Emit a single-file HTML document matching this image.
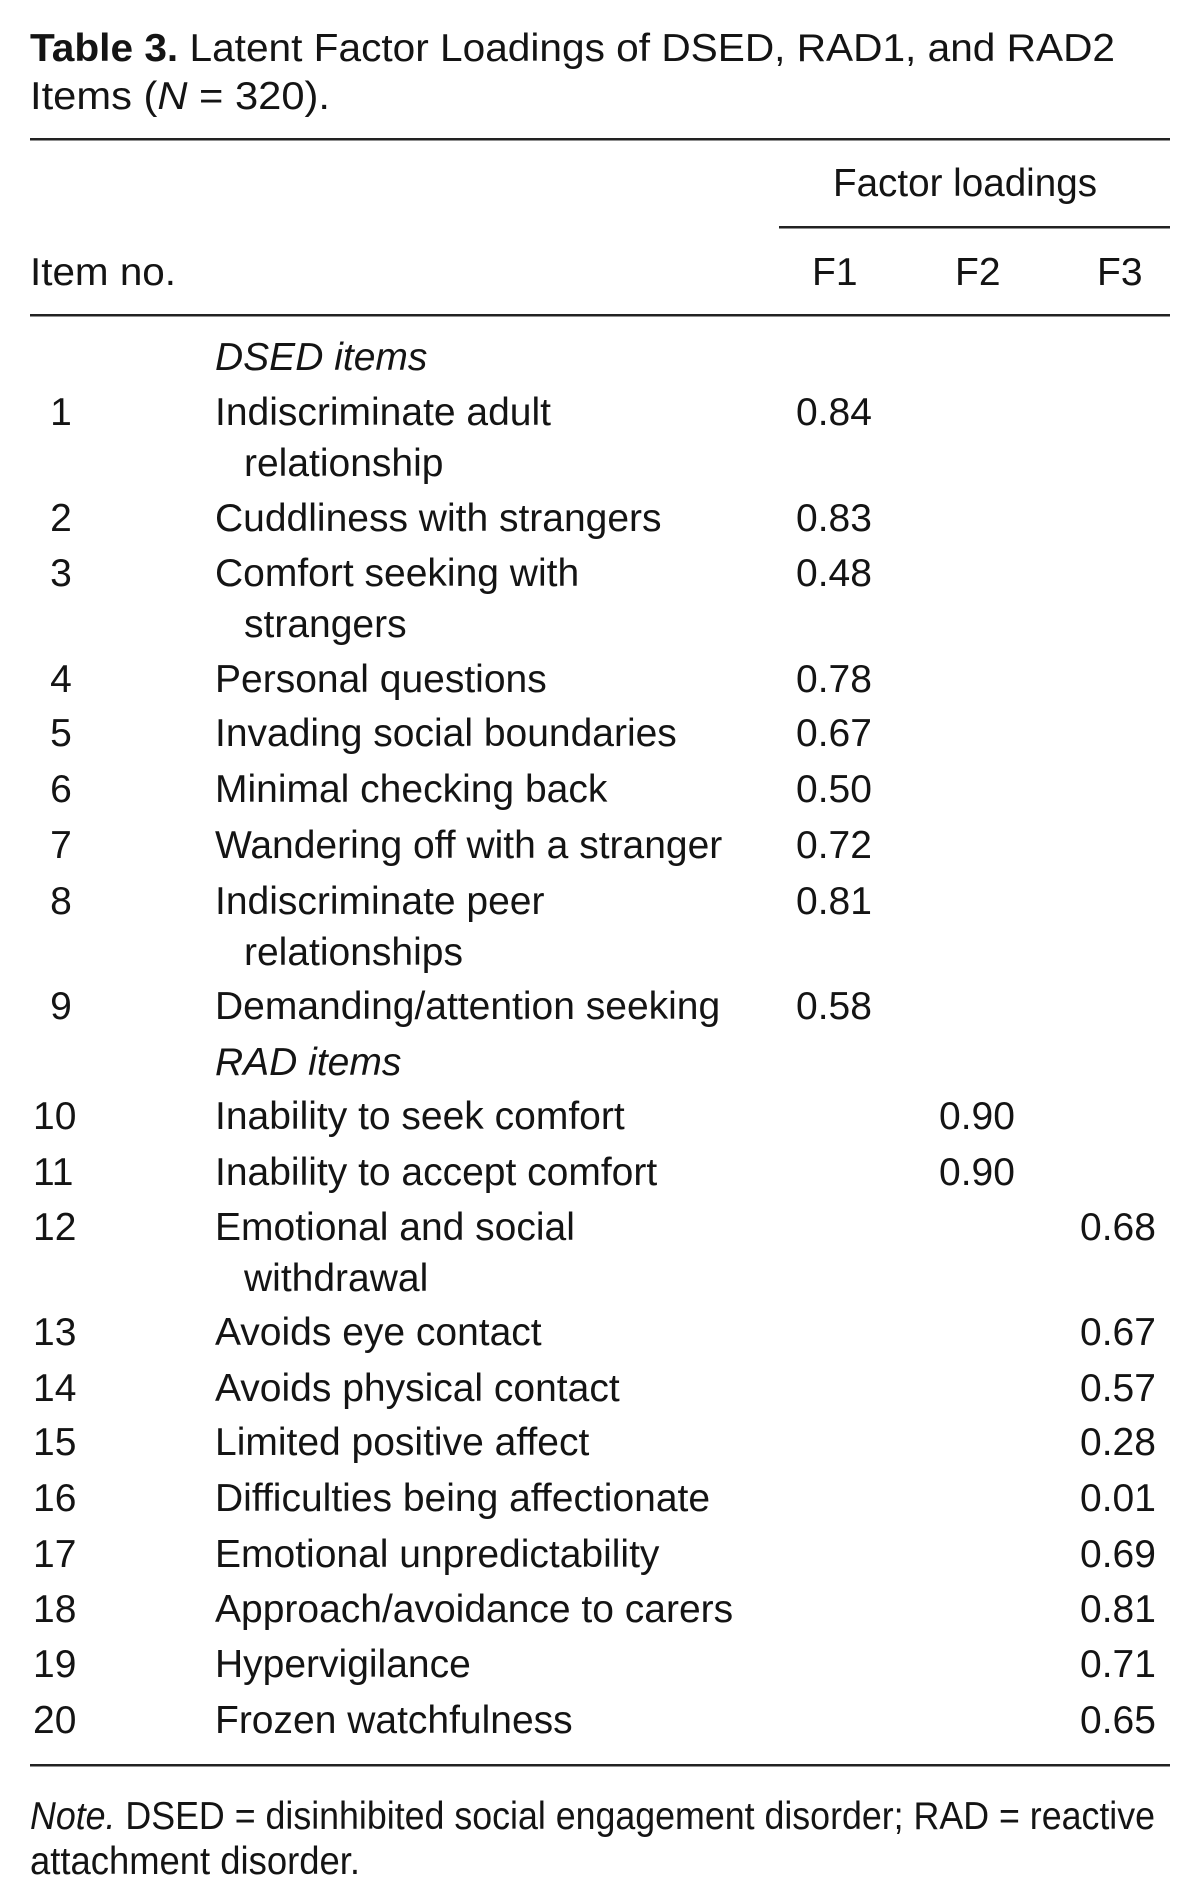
<!DOCTYPE html>
<html><head><meta charset="utf-8"><style>
html,body{margin:0;padding:0;background:#fff;}
svg{display:block;}
text{font-family:"Liberation Sans",sans-serif;font-size:39px;fill:#141414;}
</style></head><body>
<svg width="1200" height="1903" viewBox="0 0 1200 1903" xmlns="http://www.w3.org/2000/svg">
<text x="30" y="61" textLength="1085" lengthAdjust="spacingAndGlyphs"><tspan font-weight="bold">Table 3.</tspan>  Latent Factor Loadings of DSED, RAD1, and RAD2</text>
<text x="30" y="109" textLength="300" lengthAdjust="spacingAndGlyphs">Items (<tspan font-style="italic">N</tspan> = 320).</text>
<rect x="30" y="138" width="1140" height="2.5" fill="#222"/>
<text x="833" y="196" textLength="264" lengthAdjust="spacingAndGlyphs">Factor loadings</text>
<rect x="779" y="226" width="391" height="2.5" fill="#222"/>
<text x="30" y="285" textLength="146" lengthAdjust="spacingAndGlyphs">Item no.</text>
<text x="812" y="285">F1</text><text x="955" y="285">F2</text><text x="1097" y="285">F3</text>
<rect x="30" y="314" width="1140" height="2.5" fill="#222"/>
<g>
<text x="215" y="370" font-style="italic">DSED items</text>
<text x="61" y="425" text-anchor="middle">1</text><text x="215" y="425">Indiscriminate adult</text><text x="796" y="425">0.84</text>
<text x="244" y="476">relationship</text>
<text x="61" y="531" text-anchor="middle">2</text><text x="215" y="531">Cuddliness with strangers</text><text x="796" y="531">0.83</text>
<text x="61" y="586" text-anchor="middle">3</text><text x="215" y="586">Comfort seeking with</text><text x="796" y="586">0.48</text>
<text x="244" y="637">strangers</text>
<text x="61" y="692" text-anchor="middle">4</text><text x="215" y="692">Personal questions</text><text x="796" y="692">0.78</text>
<text x="61" y="746" text-anchor="middle">5</text><text x="215" y="746">Invading social boundaries</text><text x="796" y="746">0.67</text>
<text x="61" y="802" text-anchor="middle">6</text><text x="215" y="802">Minimal checking back</text><text x="796" y="802">0.50</text>
<text x="61" y="858" text-anchor="middle">7</text><text x="215" y="858">Wandering off with a stranger</text><text x="796" y="858">0.72</text>
<text x="61" y="914" text-anchor="middle">8</text><text x="215" y="914">Indiscriminate peer</text><text x="796" y="914">0.81</text>
<text x="244" y="965">relationships</text>
<text x="61" y="1019" text-anchor="middle">9</text><text x="215" y="1019">Demanding/attention seeking</text><text x="796" y="1019">0.58</text>
<text x="215" y="1075" font-style="italic">RAD items</text>
<text x="33" y="1129">10</text><text x="215" y="1129">Inability to seek comfort</text><text x="939" y="1129">0.90</text>
<text x="33" y="1185">11</text><text x="215" y="1185">Inability to accept comfort</text><text x="939" y="1185">0.90</text>
<text x="33" y="1240">12</text><text x="215" y="1240">Emotional and social</text><text x="1080" y="1240">0.68</text>
<text x="244" y="1291">withdrawal</text>
<text x="33" y="1345">13</text><text x="215" y="1345">Avoids eye contact</text><text x="1080" y="1345">0.67</text>
<text x="33" y="1401">14</text><text x="215" y="1401">Avoids physical contact</text><text x="1080" y="1401">0.57</text>
<text x="33" y="1455">15</text><text x="215" y="1455">Limited positive affect</text><text x="1080" y="1455">0.28</text>
<text x="33" y="1511">16</text><text x="215" y="1511">Difficulties being affectionate</text><text x="1080" y="1511">0.01</text>
<text x="33" y="1567">17</text><text x="215" y="1567">Emotional unpredictability</text><text x="1080" y="1567">0.69</text>
<text x="33" y="1622">18</text><text x="215" y="1622">Approach/avoidance to carers</text><text x="1080" y="1622">0.81</text>
<text x="33" y="1677">19</text><text x="215" y="1677">Hypervigilance</text><text x="1080" y="1677">0.71</text>
<text x="33" y="1733">20</text><text x="215" y="1733">Frozen watchfulness</text><text x="1080" y="1733">0.65</text>
</g>
<rect x="30" y="1764" width="1140" height="2.5" fill="#222"/>
<text x="30" y="1829" font-size="33" textLength="1125" lengthAdjust="spacingAndGlyphs"><tspan font-style="italic">Note.</tspan> DSED = disinhibited social engagement disorder; RAD = reactive</text>
<text x="30" y="1874" font-size="33" textLength="330" lengthAdjust="spacingAndGlyphs">attachment disorder.</text>
</svg>
</body></html>
